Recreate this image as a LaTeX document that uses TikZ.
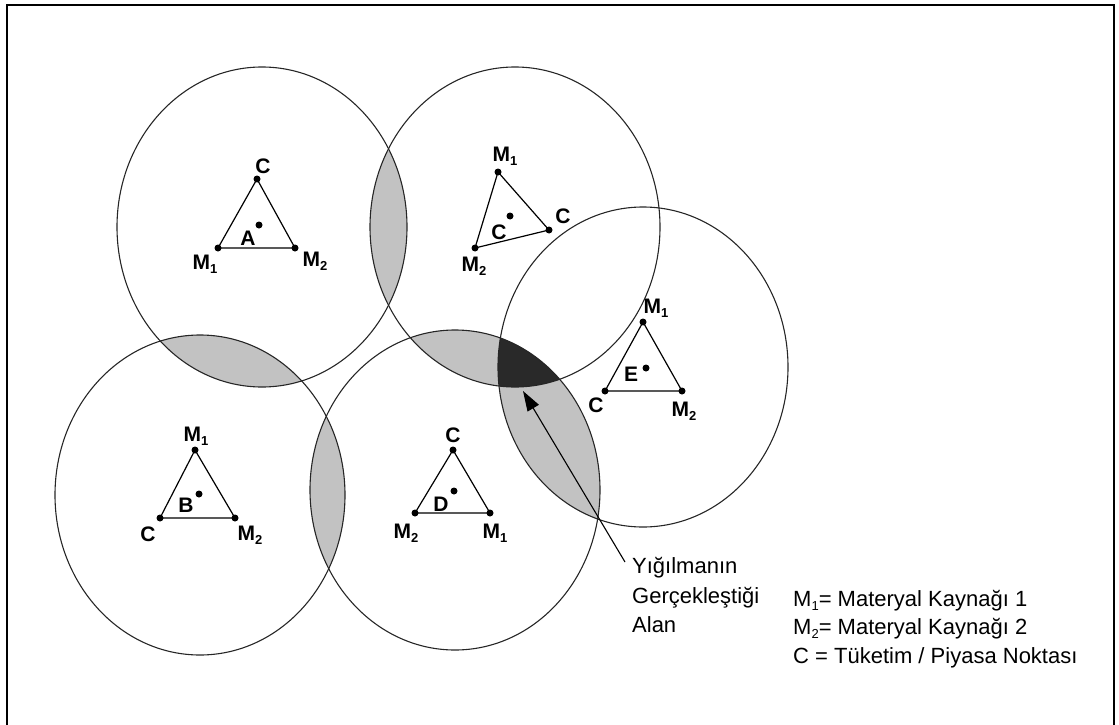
\documentclass[tikz,border=0pt]{standalone}
\usepackage{fontspec}
\setmainfont{Liberation Sans}
\usetikzlibrary{arrows.meta}
\newcommand\msub[1]{\raisebox{-0.35ex}{\fontsize{13}{13}\selectfont #1}}
\begin{document}
\begin{tikzpicture}[x=1pt,y=-1pt,
  ring/.style={draw=black!85, line width=1.1pt},
  lightfill/.style={fill=black!24},
  darkfill/.style={fill=black!84},
  edge/.style={line width=1.2pt},
  vdot/.style={circle, fill=black, inner sep=0pt, minimum size=7pt},
  lbl/.style={font=\fontsize{21}{21}\selectfont\bfseries, inner sep=0pt},
  txt/.style={font=\fontsize{22}{22}\selectfont, inner sep=0pt, anchor=base west},
  pointer/.style={line width=1.1pt, -{Triangle[length=20pt,width=13pt]}}]
\useasboundingbox (0,0) rectangle (1119,725);
% frame
\draw[line width=1.2pt] (7,725) -- (7,5) -- (1114,5) -- (1114,725);
% centres
\coordinate (cA) at (262,227);
\coordinate (cC) at (515,227);
\coordinate (cE) at (643,367);
\coordinate (cB) at (200,495);
\coordinate (cD) at (455,490);
\def\rx{145}\def\ry{160}
% light overlaps
\begin{scope}\clip (cA) ellipse [x radius=\rx, y radius=\ry];
  \fill[lightfill] (cB) ellipse [x radius=\rx, y radius=\ry];
  \fill[lightfill] (cC) ellipse [x radius=\rx, y radius=\ry];
\end{scope}
\begin{scope}\clip (cD) ellipse [x radius=\rx, y radius=\ry];
  \fill[lightfill] (cB) ellipse [x radius=\rx, y radius=\ry];
  \fill[lightfill] (cC) ellipse [x radius=\rx, y radius=\ry];
  \fill[lightfill] (cE) ellipse [x radius=\rx, y radius=\ry];
\end{scope}
% dark triple overlap
\begin{scope}\clip (cC) ellipse [x radius=\rx, y radius=\ry];
  \clip (cD) ellipse [x radius=\rx, y radius=\ry];
  \fill[darkfill] (cE) ellipse [x radius=\rx, y radius=\ry];
\end{scope}
% circles
\foreach \c in {cA,cC,cE,cB,cD}
  \draw[ring] (\c) ellipse [x radius=\rx, y radius=\ry];

% Triangle A
\node[vdot] (aC) at (257,179) {};
\node[vdot] (aM1) at (218,248) {};
\node[vdot] (aM2) at (295,248) {};
\node[vdot] (aX) at (259,225) {};
\draw[edge] (aC.center) -- (aM1.center) -- (aM2.center) -- cycle;
\node[lbl] (laC) at (263,166) {C};
\node[lbl] (laM1) at (205,264) {M\msub{1}};
\node[lbl] (laM2) at (315,261) {M\msub{2}};
\node[lbl] (laX) at (248,238) {A};

% Triangle C
\node[vdot] (cM1) at (498,172) {};
\node[vdot] (cCC) at (549,230) {};
\node[vdot] (cM2) at (475,248) {};
\node[vdot] (cX) at (510,216) {};
\draw[edge] (cM1.center) -- (cCC.center) -- (cM2.center) -- cycle;
\node[lbl] (lcM1) at (505,156) {M\msub{1}};
\node[lbl] (lcC) at (563,216) {C};
\node[lbl] (lcM2) at (474,266) {M\msub{2}};
\node[lbl] (lcX) at (499,232) {C};

% Triangle E
\node[vdot] (eM1) at (643,322) {};
\node[vdot] (eC) at (605,391) {};
\node[vdot] (eM2) at (682,391) {};
\node[vdot] (eX) at (646,368) {};
\draw[edge] (eM1.center) -- (eC.center) -- (eM2.center) -- cycle;
\node[lbl] (leM1) at (656,308) {M\msub{1}};
\node[lbl] (leC) at (596,405) {C};
\node[lbl] (leM2) at (684,411) {M\msub{2}};
\node[lbl] (leX) at (631,374) {E};

% Triangle B
\node[vdot] (bM1) at (195,450) {};
\node[vdot] (bC) at (160,518) {};
\node[vdot] (bM2) at (235,518) {};
\node[vdot] (bX) at (199,494) {};
\draw[edge] (bM1.center) -- (bC.center) -- (bM2.center) -- cycle;
\node[lbl] (lbM1) at (196,436) {M\msub{1}};
\node[lbl] (lbC) at (148,534) {C};
\node[lbl] (lbM2) at (250,535) {M\msub{2}};
\node[lbl] (lbX) at (186,505) {B};

% Triangle D
\node[vdot] (dC) at (453,450) {};
\node[vdot] (dM2) at (415,513) {};
\node[vdot] (dM1) at (490,513) {};
\node[vdot] (dX) at (454,491) {};
\draw[edge] (dC.center) -- (dM2.center) -- (dM1.center) -- cycle;
\node[lbl] (ldC) at (453,435) {C};
\node[lbl] (ldM2) at (406,533) {M\msub{2}};
\node[lbl] (ldM1) at (495,533) {M\msub{1}};
\node[lbl] (ldX) at (441,504) {D};

% pointer
\coordinate (tail) at (625,562);
\coordinate (tip) at (523,391);
\draw[pointer] (tail) -- (tip);

% area text
\node[txt] (t1) at (632,573) {Yığılmanın};
\node[txt] (t2) at (632,603) {Gerçekleştiği};
\node[txt] (t3) at (632,632) {Alan};

% legend
\node[txt] (g1) at (793,606) {M\msub{1}= Materyal Kaynağı 1};
\node[txt] (g2) at (793,634) {M\msub{2}= Materyal Kaynağı 2};
\node[txt] (g3) at (793,663) {C = Tüketim / Piyasa Noktası};
\end{tikzpicture}
\end{document}
